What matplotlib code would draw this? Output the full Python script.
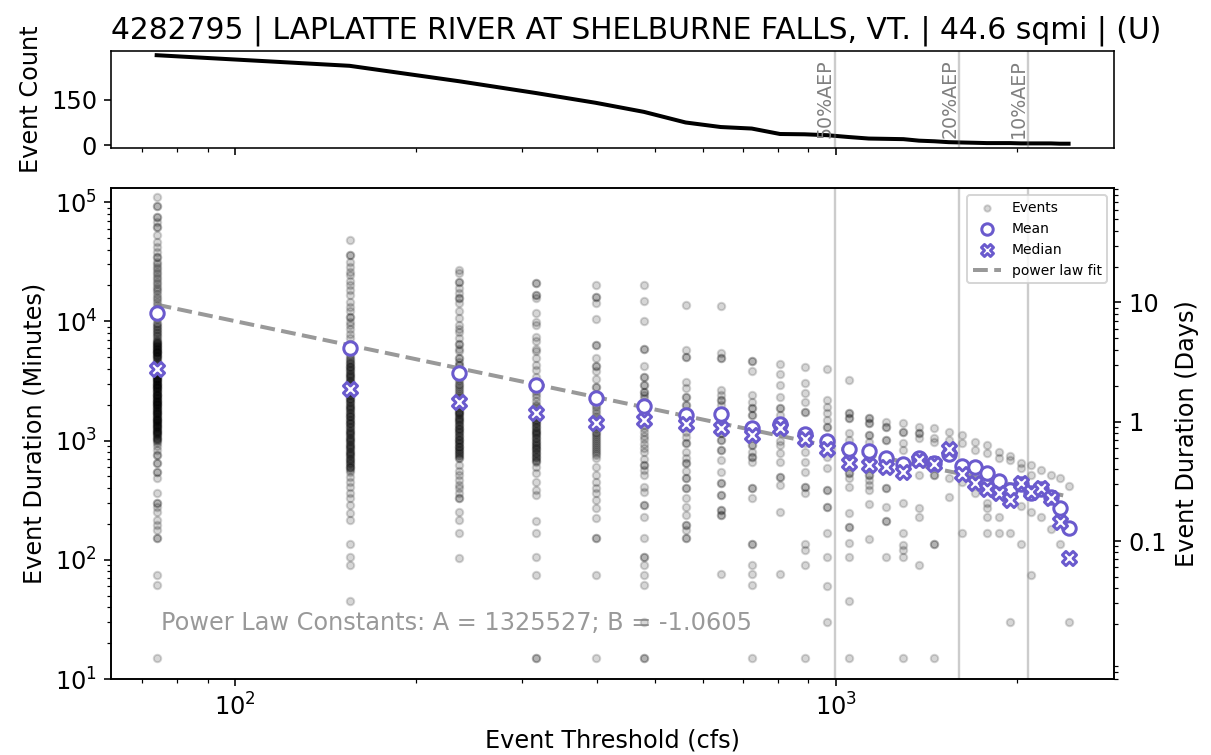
import matplotlib
matplotlib.use('Agg')
from matplotlib import pyplot as plt
from matplotlib import transforms

plt.rcParams['font.size'] = 12

title = '4282795 | LAPLATTE RIVER AT SHELBURNE FALLS, VT. | 44.6 sqmi | (U)'

# event thresholds (cfs)
thresholds = [74, 155, 236, 317, 398, 479, 562, 643, 724, 807, 887, 967, 1050, 1134, 1212,
              1295, 1375, 1458, 1541, 1620, 1705, 1783, 1867, 1950, 2032, 2113, 2196, 2279, 2356, 2439]

event_counts = [297, 262, 211, 172, 140, 110, 75, 60, 55, 37, 36, 33, 27, 22, 21,
                20, 15, 13, 10, 9, 8, 7, 7, 7, 6, 6, 6, 6, 5, 5]

mean_dur = [11700, 5940, 3700, 2930, 2260, 1950, 1650, 1660, 1280, 1370, 1140, 990, 850, 818, 720,
            637, 710, 645, 773, 613, 604, 538, 461, 385, 430, 362, 390, 335, 273, 184]
median_dur = [3960, 2720, 2090, 1690, 1390, 1480, 1370, 1283, 1120, 1267, 1030, 851, 653, 624, 597,
              542, 688, 637, 845, 521, 438, 390, 361, 318, 438, 370, 398, 328, 209, 104]

# event durations (minutes) per threshold
ev_074 = [15, 61, 75, 151, 151, 178, 196, 216, 253, 279, 297, 297, 361, 482, 548, 548, 644, 644, 757, 757,
          840, 900, 960, 1000, 1010, 1030, 1050, 1060, 1095, 1110, 1125, 1150, 1160, 1180, 1195, 1200,
          1230, 1250, 1270, 1290, 1305, 1320, 1345, 1360, 1385, 1410, 1425, 1440, 1470, 1490, 1500, 1515,
          1530, 1560, 1580, 1605, 1620, 1655, 1680, 1700, 1705, 1730, 1755, 1780, 1810, 1830, 1860, 1890,
          1920, 1950, 1975, 2000, 2010, 2035, 2065, 2095, 2100, 2130, 2160, 2190, 2225, 2260, 2290, 2320,
          2360, 2390, 2400, 2430, 2470, 2505, 2540, 2580, 2620, 2655, 2700, 2735, 2770, 2800, 2820, 2860,
          2905, 2950, 2990, 3000, 3040, 3080, 3130, 3170, 3220, 3265, 3300, 3320, 3365, 3420, 3465, 3570,
          3600, 3675, 3785, 3900, 4000, 4015, 4135, 4260, 4390, 4400, 4520, 4655, 4795, 4940, 5000, 5085,
          5160, 5240, 5320, 5395, 5480, 5500, 5560, 5640, 5725, 5810, 5895, 6000, 6075, 6160, 6255, 6350,
          6445, 6540, 6635, 6740, 6835, 7040, 7250, 7470, 7690, 7920, 8160, 8405, 8655, 8915, 9185, 9460,
          9740, 10400, 11000, 11600, 12300, 13000, 13800, 14600, 15400, 16100, 17000, 17800, 18800, 19500,
          20500, 21500, 22600, 23700, 24900, 26100, 27400, 28800, 30200, 31700, 34900, 34900, 38500,
          42400, 46700, 53000, 62200, 62200, 68600, 75600, 75600, 93500, 93500, 111000]
ev_155 = [45, 90, 106, 135, 216, 245, 288, 327, 360, 410, 450, 490, 548, 565, 585, 600, 605, 625, 645,
          650, 670, 690, 700, 715, 740, 750, 765, 790, 800, 820, 845, 860, 875, 905, 920, 940, 970, 990,
          1005, 1040, 1060, 1075, 1115, 1130, 1150, 1190, 1210, 1235, 1275, 1290, 1320, 1365, 1390, 1415,
          1465, 1490, 1515, 1570, 1600, 1620, 1680, 1710, 1735, 1800, 1830, 1860, 1925, 1960, 1990, 2060,
          2100, 2135, 2210, 2250, 2285, 2365, 2400, 2450, 2535, 2570, 2620, 2715, 2760, 2810, 2905, 2950,
          3010, 3115, 3160, 3220, 3335, 3390, 3450, 3570, 3630, 3695, 3825, 3890, 3960, 4100, 4170, 4240,
          4390, 4470, 4545, 4700, 4870, 5040, 5200, 5600, 6000, 6500, 7200, 7800, 8700, 9300, 9900, 10900,
          10900, 12100, 13300, 14600, 16600, 18300, 20200, 22000, 24500, 26100, 28800, 31700, 36100,
          36100, 48200]
ev_236 = [104, 167, 216, 253, 327, 327, 365, 400, 424, 470, 514, 560, 624, 710, 720, 735, 760, 780, 790,
          815, 830, 845, 875, 890, 905, 940, 950, 970, 1005, 1020, 1040, 1080, 1095, 1115, 1155, 1170,
          1200, 1240, 1260, 1285, 1330, 1350, 1380, 1430, 1450, 1480, 1530, 1560, 1585, 1640, 1670, 1700,
          1750, 1750, 1820, 1890, 1960, 2030, 2100, 2180, 2260, 2340, 2430, 2520, 2600, 2700, 2800, 2900,
          3000, 3150, 3300, 3600, 3900, 4300, 4300, 4600, 4900, 4900, 5600, 5900, 6500, 6500, 7300, 8200,
          8700, 9300, 10600, 12100, 14200, 15600, 15600, 17200, 18900, 21500, 21500, 25300, 27000]
ev_317 = [15, 15, 75, 106, 167, 211, 349, 385, 450, 531, 600, 665, 680, 690, 715, 730, 745, 770, 785,
          800, 830, 845, 860, 890, 910, 925, 960, 980, 995, 1030, 1050, 1070, 1110, 1130, 1150, 1190,
          1210, 1235, 1280, 1300, 1330, 1380, 1400, 1430, 1480, 1500, 1540, 1600, 1660, 1720, 1790, 1860,
          1930, 1990, 2150, 2300, 2450, 2600, 2800, 3050, 3400, 3900, 4300, 4900, 5600, 5900, 6800, 7400,
          9300, 9900, 11700, 15600, 16600, 16600, 20800, 20800]
ev_398 = [15, 75, 151, 151, 222, 270, 317, 360, 397, 450, 514, 600, 710, 760, 790, 820, 850, 885, 920,
          955, 990, 1030, 1070, 1110, 1150, 1190, 1240, 1290, 1340, 1400, 1460, 1540, 1620, 1700, 1800,
          1900, 1990, 2300, 2830, 2830, 3300, 3800, 4200, 4200, 4900, 6300, 6300, 10400, 14200, 16100,
          16100, 20200]
ev_479 = [15, 15, 30, 61, 75, 90, 106, 106, 151, 230, 288, 288, 372, 410, 514, 566, 624, 624, 700, 807,
          870, 940, 1040, 1100, 1180, 1270, 1350, 1450, 2260, 2400, 2570, 2570, 2920, 2920, 3400, 3400,
          4200, 5900, 5900, 10100, 14900, 20200]
ev_562 = [151, 151, 178, 196, 196, 238, 279, 327, 397, 397, 482, 482, 560, 644, 644, 720, 807, 948, 948,
          1080, 1190, 1300, 1450, 1600, 1750, 1750, 1990, 1990, 2330, 2330, 2740, 3120, 5060, 5060, 5750,
          13700]
ev_643 = [76, 238, 238, 262, 262, 349, 349, 438, 438, 548, 687, 834, 834, 1010, 1010, 1150, 1150, 1300,
          1990, 2190, 2190, 2410, 2660, 4900, 4900, 5400, 13500]
ev_724 = [15, 61, 76, 90, 135, 135, 327, 397, 397, 665, 733, 733, 807, 918, 918, 1640, 1640, 1860, 1860,
          2120, 2410, 3840, 4660, 4660]
ev_807 = [76, 253, 424, 498, 498, 665, 781, 918, 1000, 1640, 1890, 1890, 2300, 2930, 3590, 4390]
ev_887 = [15, 90, 121, 135, 361, 410, 410, 548, 665, 807, 950, 1750, 1750, 2120, 2490, 3060, 4170]
ev_967 = [30, 60, 106, 167, 279, 279, 385, 385, 585, 733, 834, 1310, 1310, 1490, 1690, 1920, 2190, 3980]
ev_1050 = [15, 45, 106, 138, 190, 190, 245, 410, 482, 531, 531, 782, 1012, 1150, 1540, 1540, 1690, 1690,
           3220]
ev_1134 = [150, 294, 385, 424, 467, 514, 514, 600, 735, 968, 1110, 1110, 1400, 1400, 1540, 1540]
ev_1212 = [105, 212, 212, 279, 398, 398, 581, 1010, 1010, 1290, 1290, 1440]
ev_1295 = [15, 106, 121, 133, 167, 301, 834, 948, 1190, 1190, 1400]
ev_1375 = [90, 227, 270, 514, 1050, 1150, 1150, 1310]
ev_1458 = [15, 135, 135, 514, 514, 980, 1050, 1270]
ev_1541 = [334, 482, 1010, 1190]
ev_1620 = [167, 453, 948, 1110]
ev_1705 = [361, 834, 980]
ev_1783 = [167, 227, 270, 298, 782, 918]
ev_1867 = [167, 227, 710, 807]
ev_1950 = [30, 167, 688, 743]
ev_2032 = [136, 283, 585, 645]
ev_2113 = [75, 253, 514, 624]
ev_2196 = [227, 566]
ev_2279 = [180, 514]
ev_2356 = [135, 482]
ev_2439 = [30, 419]

events = [ev_074, ev_155, ev_236, ev_317, ev_398, ev_479, ev_562, ev_643, ev_724, ev_807, ev_887,
          ev_967, ev_1050, ev_1134, ev_1212, ev_1295, ev_1375, ev_1458, ev_1541, ev_1620, ev_1705,
          ev_1783, ev_1867, ev_1950, ev_2032, ev_2113, ev_2196, ev_2279, ev_2356, ev_2439]

# power law fit constants
A = 1325527
B = -1.0605

aep_flows = [996, 1605, 2089]
aep_labels = ['50%AEP', '20%AEP', '10%AEP']

fig = plt.figure(figsize=(1211.2 / 144, 755.2 / 144), dpi=144)
ax_top = fig.add_axes([0.0917, 0.8036, 0.8282, 0.1289])
ax = fig.add_axes([0.0917, 0.1007, 0.8282, 0.6499], sharex=ax_top)

# top panel: event count
ax_top.plot(thresholds, event_counts, color='k', lw=2)
ax_top.set_yticks([0, 150])
ax_top.set_ylabel('Event Count')
ax_top.tick_params(labelbottom=False)
ax_top.set_title(title, fontsize=14.85, x=0.523)
trans = transforms.blended_transform_factory(ax_top.transData, ax_top.transAxes)
for q, lab in zip(aep_flows, aep_labels):
    ax_top.axvline(q, color='gray', alpha=0.4, lw=1.2)
    ax_top.text(q, 0.11, lab, rotation=90, ha='right', va='bottom', color='gray',
                fontsize=9.5, transform=trans)

# main panel
xs = []
ys = []
for t, ev in zip(thresholds, events):
    xs += [t] * len(ev)
    ys += ev
ax.scatter(xs, ys, s=14, color='k', alpha=0.16, label='Events', zorder=1)
ax.scatter(thresholds, mean_dur, s=45, marker='o', facecolor='white', edgecolor='slateblue',
           linewidth=1.5, label='Mean', zorder=3)
ax.scatter(thresholds, median_dur, s=50, marker='X', facecolor='white', edgecolor='slateblue',
           linewidth=1.5, label='Median', zorder=4)
fit = [A * t ** B for t in thresholds]
ax.plot(thresholds, fit, '--', color='gray', alpha=0.8, lw=2, label='power law fit', zorder=2)

for q in aep_flows:
    ax.axvline(q, color='gray', alpha=0.4, lw=1.2)

ax.set_xscale('log')
ax.set_yscale('log')
ax.set_ylim(10, 1.31e5)
ax.set_xlabel('Event Threshold (cfs)')
ax.set_ylabel('Event Duration (Minutes)')
ax.text(0.05, 0.1, 'Power Law Constants: A = {0}; B = {1}'.format(A, B), transform=ax.transAxes,
        color='gray', alpha=0.8, fontsize=12)
ax.legend(loc='upper right', fontsize='xx-small', markerscale=0.85)

ax2 = ax.twinx()
ax2.set_yscale('log')
ax2.set_ylim(10 / 1440, 1.31e5 / 1440)
ax2.set_yticks([0.1, 1, 10])
ax2.set_yticklabels(['0.1', '1', '10'])
ax2.set_ylabel('Event Duration (Days)')

plt.savefig('out.png', dpi=144)
plt.close()
